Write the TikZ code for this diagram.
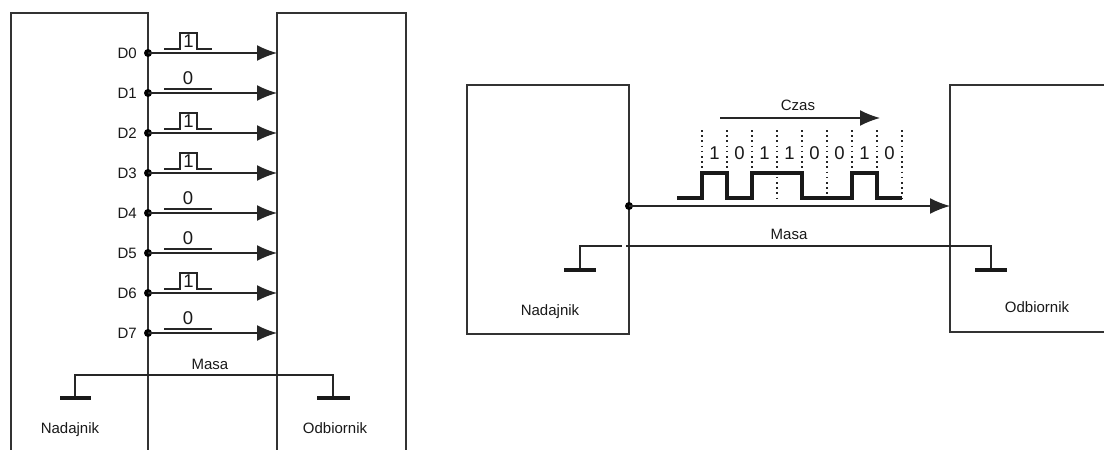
\documentclass[tikz,border=0pt]{standalone}
\usepackage{fontspec}
\setmainfont{Liberation Sans}
\usetikzlibrary{arrows.meta}
\tikzset{
  wire/.style={draw=black!85, line width=1.5pt},
  sig/.style={wire, -{Latex[length=20pt,width=16pt]}},
  boxline/.style={draw=black!80, line width=1.5pt},
  gnd/.style={draw=black!90, line width=4.5pt},
  wave/.style={draw=black!90, line width=3.2pt, line join=miter},
  bitdiv/.style={draw=black!85, line width=1.6pt, dash pattern=on 1.6pt off 3.6pt},
  lbl/.style={font=\fontsize{15}{15}\selectfont, text=black!90, inner sep=0pt},
  bit/.style={font=\fontsize{18.5}{18.5}\selectfont, text=black!90, inner sep=0pt},
  junction/.style={circle, fill=black, inner sep=0pt, minimum size=8pt},
  lvl/.style={draw=black!85, line width=1.5pt},
}
\begin{document}
\begin{tikzpicture}[x=1pt,y=-1pt]
\useasboundingbox (0,0) rectangle (1104,450);
\fill[white] (0,0) rectangle (1104,450);

% ---------------- parallel transmission ----------------
\coordinate (pTxTL) at (11,13);
\coordinate (pTxTR) at (148,13);
\coordinate (pRxTL) at (277,13);
\coordinate (pRxTR) at (406,13);
\draw[boxline] (11,450) -- (pTxTL) -- (pTxTR) -- (148,450);
\draw[boxline] (277,450) -- (pRxTL) -- (pRxTR) -- (406,450);

\foreach \i/\b in {0/1,1/0,2/1,3/1,4/0,5/0,6/1,7/0}{
  \pgfmathsetmacro{\yy}{53+40*\i}
  \node[junction] (src\i) at (148,\yy) {};
  \coordinate (dst\i) at (277,\yy);
  \node[lbl, anchor=east] (lab\i) at (137,\yy) {D\i};
  \draw[sig] (src\i.center) -- (dst\i);
  \ifnum\b=1
    \draw[lvl] (164,\yy-4) -- (180,\yy-4) -- (180,\yy-20) -- (197,\yy-20) -- (197,\yy-4) -- (212,\yy-4);
    \node[bit] (val\i) at (188.5,\yy-12) {1};
  \else
    \draw[lvl] (164,\yy-4) -- (212,\yy-4);
    \node[bit] (val\i) at (188,\yy-15) {0};
  \fi
}

% ground of the parallel link
\coordinate (pg1) at (75,398);
\coordinate (pg2) at (333,398);
\draw[wire] (pg1) -- (75,375) -- (333,375) -- (pg2);
\draw[gnd] (60,398) -- (91,398);
\draw[gnd] (317,398) -- (350,398);
\node[lbl] (pMasa) at (210,364) {Masa};
\node[lbl] (pTx) at (70,430) {Nadajnik};
\node[lbl] (pRx) at (335,428) {Odbiornik};

% ---------------- serial transmission ----------------
\coordinate (sTx1) at (467,85);
\coordinate (sTx2) at (629,334);
\draw[boxline] (sTx1) rectangle (sTx2);
\draw[boxline] (1104,85) -- (950,85) -- (950,332) -- (1104,332);

\node[junction] (sOut) at (629,206) {};
\coordinate (sIn) at (950,206);
\draw[sig] (sOut.center) -- (sIn);

% ground of the serial link
\coordinate (sg1) at (580,270);
\coordinate (sg2) at (991,270);
\draw[wire] (sg1) -- (580,246) -- (622,246);
\draw[wire] (626,246) -- (991,246) -- (sg2);
\draw[gnd] (564,270) -- (596,270);
\draw[gnd] (975,270) -- (1007,270);
\node[lbl] (sMasa) at (789,234) {Masa};
\node[lbl] (sTx) at (550,312) {Nadajnik};
\node[lbl] (sRx) at (1037,307) {Odbiornik};

% time axis
\coordinate (t0) at (720,118);
\coordinate (t1) at (880,118);
\draw[sig] (t0) -- (t1);
\node[lbl] (czas) at (798,105) {Czas};

% bit cells
\foreach \k in {0,...,8}{
  \draw[bitdiv] (702+25*\k,130) -- (702+25*\k,198);
}
\foreach \b [count=\k from 0] in {1,0,1,1,0,0,1,0}{
  \node[bit] (bit\k) at (714.5+25*\k,153) {\b};
}

% serial waveform
\draw[wave] (677,198) -- (702,198) -- (702,173) -- (727,173) -- (727,198)
  -- (752,198) -- (752,173) -- (802,173) -- (802,198) -- (852,198)
  -- (852,173) -- (877,173) -- (877,198) -- (902,198);
\end{tikzpicture}
\end{document}
